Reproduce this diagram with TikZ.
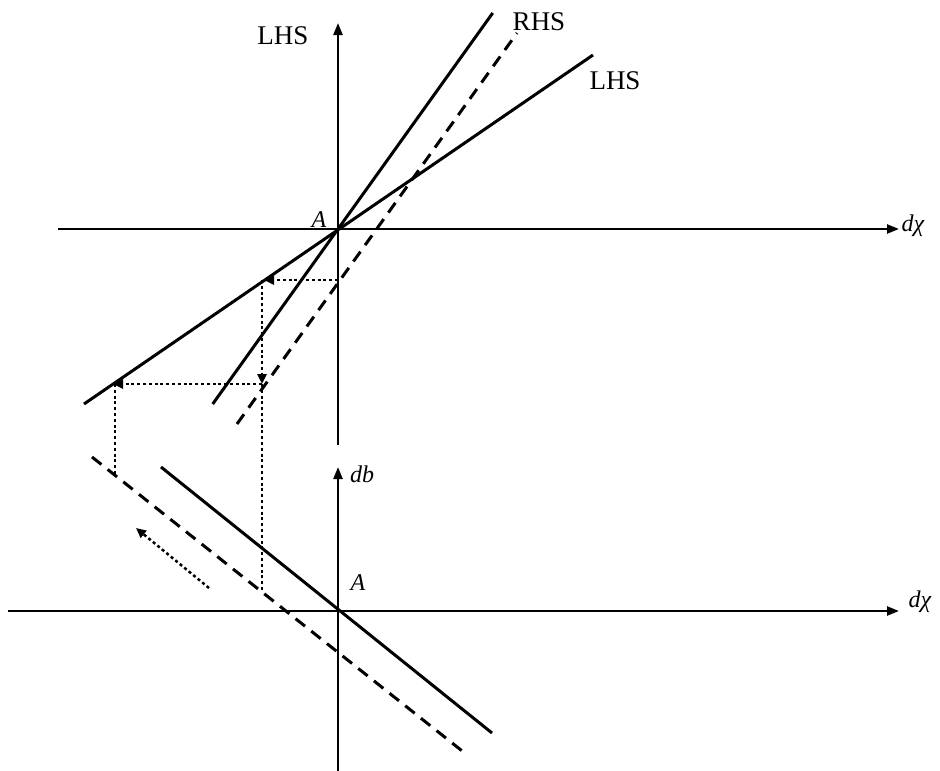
\documentclass[tikz,border=0pt]{standalone}
\usepackage{fontspec}
\setmainfont{Liberation Serif}
\usetikzlibrary{arrows.meta}
\begin{document}
\begin{tikzpicture}[x=1pt,y=-1pt,
  axis/.style={line width=2.3pt,-{Triangle[length=12pt,width=9pt]}},
  curve/.style={line width=3pt},
  dashcurve/.style={line width=3pt,dash pattern=on 12pt off 8pt},
  guide/.style={line width=2.5pt,dash pattern=on 3pt off 2.8pt},
  guidearrow/.style={guide,-{Triangle[length=10pt,width=9pt]}},
  rlabel/.style={inner sep=0pt,font=\fontsize{27}{31}\selectfont},
  ilabel/.style={inner sep=0pt,font=\fontsize{24}{28}\selectfont\itshape}]
\useasboundingbox (0,0) rectangle (940,771);

% ---------- top diagram ----------
\coordinate (tXl) at (58,229);
\coordinate (tXr) at (899,229);
\coordinate (tYb) at (338,445);
\coordinate (tYt) at (338,23);
\draw[axis] (tXl) -- (tXr);
\draw[axis] (tYb) -- (tYt);

\coordinate (s1) at (212.7,404);
\coordinate (s2) at (492.7,13);
\draw[curve] (s1) -- (s2);
\coordinate (d1) at (237,424);
\coordinate (d2) at (517,33);
\draw[dashcurve] (d1) -- (d2);
\coordinate (l1) at (84,404);
\coordinate (l2) at (593,55);
\draw[curve] (l1) -- (l2);

\coordinate (g1) at (338,280);
\coordinate (g2) at (264,280);
\coordinate (g3) at (262,280);
\coordinate (g4) at (262,384);
\coordinate (g5) at (113,384);
\coordinate (g6) at (115,384);
\coordinate (g7) at (115,476);
\coordinate (g8) at (262,590);
\draw[guidearrow] (g1) -- (g2);
\draw[guidearrow] (g3) -- (g4);
\draw[guidearrow] (g4) -- (g5);
\draw[guide] (g6) -- (g7);
\draw[guide] (g4) -- (g8);

\node[rlabel] (lhsA) at (283,36) {LHS};
\node[rlabel] (rhs) at (539,22) {RHS};
\node[rlabel] (lhsB) at (615,81) {LHS};
\node[ilabel] (At) at (319,220) {A};
\node[ilabel] (dxt) at (913,226) {dχ};

% ---------- bottom diagram ----------
\coordinate (bXl) at (8,611);
\coordinate (bXr) at (899,611);
\coordinate (bYb) at (338,771);
\coordinate (bYt) at (338,467);
\draw[axis] (bXl) -- (bXr);
\draw[axis] (bYb) -- (bYt);

\coordinate (bs1) at (161,467);
\coordinate (bs2) at (492,733);
\draw[curve] (bs1) -- (bs2);
\coordinate (bd1) at (92,457);
\coordinate (bd2) at (466,754);
\draw[dashcurve] (bd1) -- (bd2);

\coordinate (ba1) at (209,588);
\coordinate (ba2) at (136,528);
\draw[guidearrow] (ba1) -- (ba2);

\node[ilabel] (db) at (362,474) {db};
\node[ilabel] (Ab) at (358,583) {A};
\node[ilabel] (dxb) at (920,602) {dχ};
\end{tikzpicture}
\end{document}
